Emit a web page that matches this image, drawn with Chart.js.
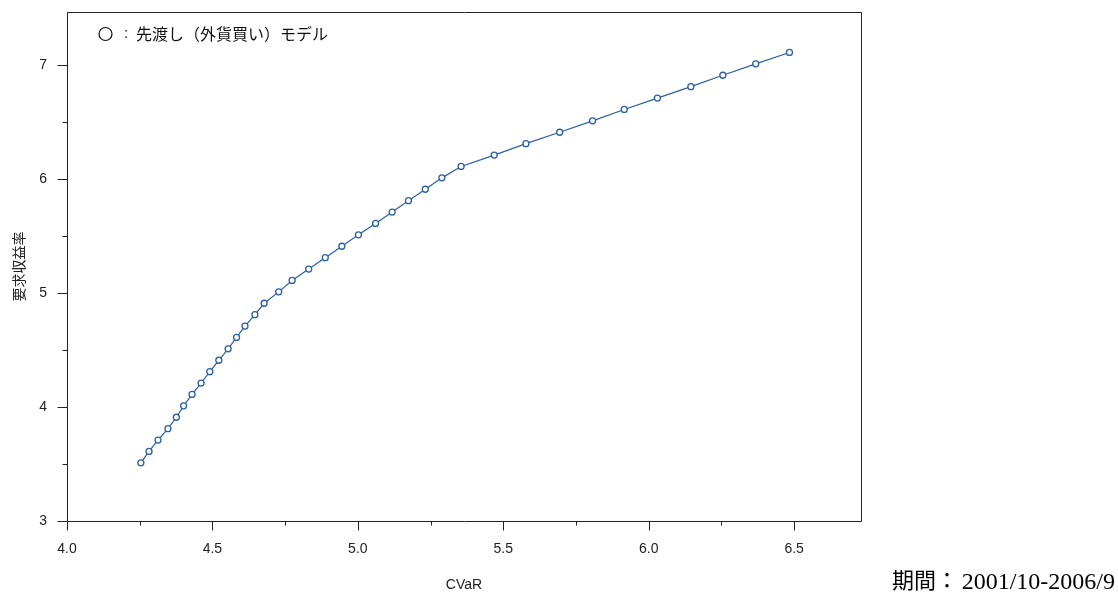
<!DOCTYPE html>
<html>
<head>
<meta charset="utf-8">
<script src="https://cdn.jsdelivr.net/npm/chart.js@4.4.1/dist/chart.umd.min.js"></script>
<style>
html,body{margin:0;padding:0;background:#fff;}
#wrap{position:relative;width:1118px;height:594px;}
canvas{display:block;}
</style>
</head>
<body>
<div id="wrap"><canvas id="c" width="1118" height="594"></canvas></div>
<script>
// CVaR (x) values
const cvar = [4.254, 4.282, 4.313, 4.347, 4.376, 4.401, 4.430, 4.461, 4.491, 4.522,
              4.554, 4.583, 4.612, 4.646, 4.678, 4.728, 4.774, 4.831, 4.888, 4.945,
              5.002, 5.061, 5.118, 5.174, 5.232, 5.289, 5.355, 5.469, 5.578, 5.694,
              5.807, 5.916, 6.030, 6.145, 6.255, 6.368, 6.484];
// required return (y) values
const requiredReturn = [3.51, 3.61, 3.71, 3.81, 3.91, 4.01, 4.11, 4.21, 4.31, 4.41,
                        4.51, 4.61, 4.71, 4.81, 4.91, 5.01, 5.11, 5.21, 5.31, 5.41,
                        5.51, 5.61, 5.71, 5.81, 5.91, 6.01, 6.11, 6.21, 6.31, 6.41,
                        6.51, 6.61, 6.71, 6.81, 6.91, 7.01, 7.11];
const xMajorTicks = [4.0, 4.5, 5.0, 5.5, 6.0, 6.5];
const xMinorTicks = [4.25, 4.75, 5.25, 5.75, 6.25];
const yMajorTicks = [3, 4, 5, 6, 7];
const yMinorTicks = [3.5, 4.5, 5.5, 6.5];
const legendText = '先渡し（外貨買い）モデル';
const xTitle = 'CVaR';
const yTitle = '要求収益率';
const periodLabel = '期間：';
const periodRange = '2001/10-2006/9';

const points = cvar.map((x, i) => ({x: x, y: requiredReturn[i]}));

const frameAndTicks = {
  id: 'frameAndTicks',
  afterDraw(chart) {
    const ctx = chart.ctx;
    const a = chart.chartArea;
    const xs = chart.scales.x, ys = chart.scales.y;
    ctx.save();
    ctx.strokeStyle = '#222';
    ctx.lineWidth = 1;
    const L = Math.round(a.left) + 0.5, R = Math.round(a.right) + 0.5;
    const T = Math.round(a.top) + 0.5, B = Math.round(a.bottom) + 0.5;
    ctx.beginPath();
    ctx.rect(L, T, R - L, B - T);
    ctx.stroke();
    ctx.beginPath();
    xMajorTicks.forEach(v => { const p = Math.round(xs.getPixelForValue(v)) + 0.5; ctx.moveTo(p, B); ctx.lineTo(p, B + 9); });
    xMinorTicks.forEach(v => { const p = Math.round(xs.getPixelForValue(v)) + 0.5; ctx.moveTo(p, B); ctx.lineTo(p, B + 4); });
    yMajorTicks.forEach(v => { const p = Math.round(ys.getPixelForValue(v)) + 0.5; ctx.moveTo(L, p); ctx.lineTo(L - 10, p); });
    yMinorTicks.forEach(v => { const p = Math.round(ys.getPixelForValue(v)) + 0.5; ctx.moveTo(L, p); ctx.lineTo(L - 5, p); });
    ctx.stroke();

    // legend inside plot
    ctx.fillStyle = '#111';
    ctx.textBaseline = 'middle';
    ctx.textAlign = 'left';
    ctx.font = '15px "Liberation Sans", sans-serif';
    ctx.fillText(':', 124, 34);
    ctx.font = '16px "Noto Sans CJK JP", sans-serif';
    ctx.fillText(legendText, 136, 34);
    ctx.beginPath();
    ctx.arc(105.5, 34, 6.5, 0, Math.PI * 2);
    ctx.lineWidth = 1.2;
    ctx.strokeStyle = '#111';
    ctx.stroke();

    // period note
    ctx.fillStyle = '#000';
    ctx.textBaseline = 'alphabetic';
    ctx.textAlign = 'left';
    ctx.font = '22px "Noto Sans CJK JP", serif';
    ctx.fillText(periodLabel, 892, 588);
    ctx.textAlign = 'right';
    ctx.font = '24px "Liberation Serif", serif';
    ctx.fillText(periodRange, 1115, 589);
    ctx.restore();
  }
};

new Chart(document.getElementById('c'), {
  type: 'scatter',
  data: {
    datasets: [{
      label: legendText,
      data: points,
      showLine: true,
      borderColor: '#2d5fa3',
      borderWidth: 1.2,
      pointRadius: 3,
      pointBorderWidth: 1.3,
      pointBackgroundColor: '#ffffff',
      pointBorderColor: '#2d5fa3',
      pointHoverRadius: 3
    }]
  },
  options: {
    responsive: false,
    animation: false,
    events: [],
    layout: { padding: { left: 0, right: 257, top: 12, bottom: 0 } },
    plugins: { legend: { display: false }, tooltip: { enabled: false } },
    scales: {
      x: {
        type: 'linear',
        min: 4.0,
        max: 6.73,
        afterBuildTicks(scale) { scale.ticks = xMajorTicks.map(v => ({value: v})); },
        afterFit(scale) { scale.height = 73; scale.paddingLeft = 0; scale.paddingRight = 0; },
        grid: { display: true, drawOnChartArea: false, drawTicks: false },
        border: { display: false },
        ticks: {
          padding: 20,
          color: '#222',
          font: { family: '"Liberation Sans", Arial, sans-serif', size: 14 },
          callback: v => Number(v).toFixed(1),
          maxRotation: 0
        },
        title: {
          display: true,
          text: xTitle,
          color: '#222',
          font: { family: '"Liberation Sans", Arial, sans-serif', size: 14 },
          padding: { top: 4, bottom: 0 }
        }
      },
      y: {
        type: 'linear',
        min: 3,
        max: 7.465,
        afterBuildTicks(scale) { scale.ticks = yMajorTicks.map(v => ({value: v})); },
        afterFit(scale) { scale.width = 67; scale.paddingTop = 0; scale.paddingBottom = 0; },
        grid: { display: true, drawOnChartArea: false, drawTicks: false },
        border: { display: false },
        ticks: {
          padding: 20,
          color: '#222',
          font: { family: '"Liberation Sans", Arial, sans-serif', size: 14 },
          callback: v => String(v)
        },
        title: {
          display: true,
          text: yTitle,
          color: '#222',
          font: { family: '"Noto Sans CJK JP", sans-serif', size: 14 },
          padding: { top: 10, bottom: 0 }
        }
      }
    }
  },
  plugins: [frameAndTicks]
});
</script>
</body>
</html>
